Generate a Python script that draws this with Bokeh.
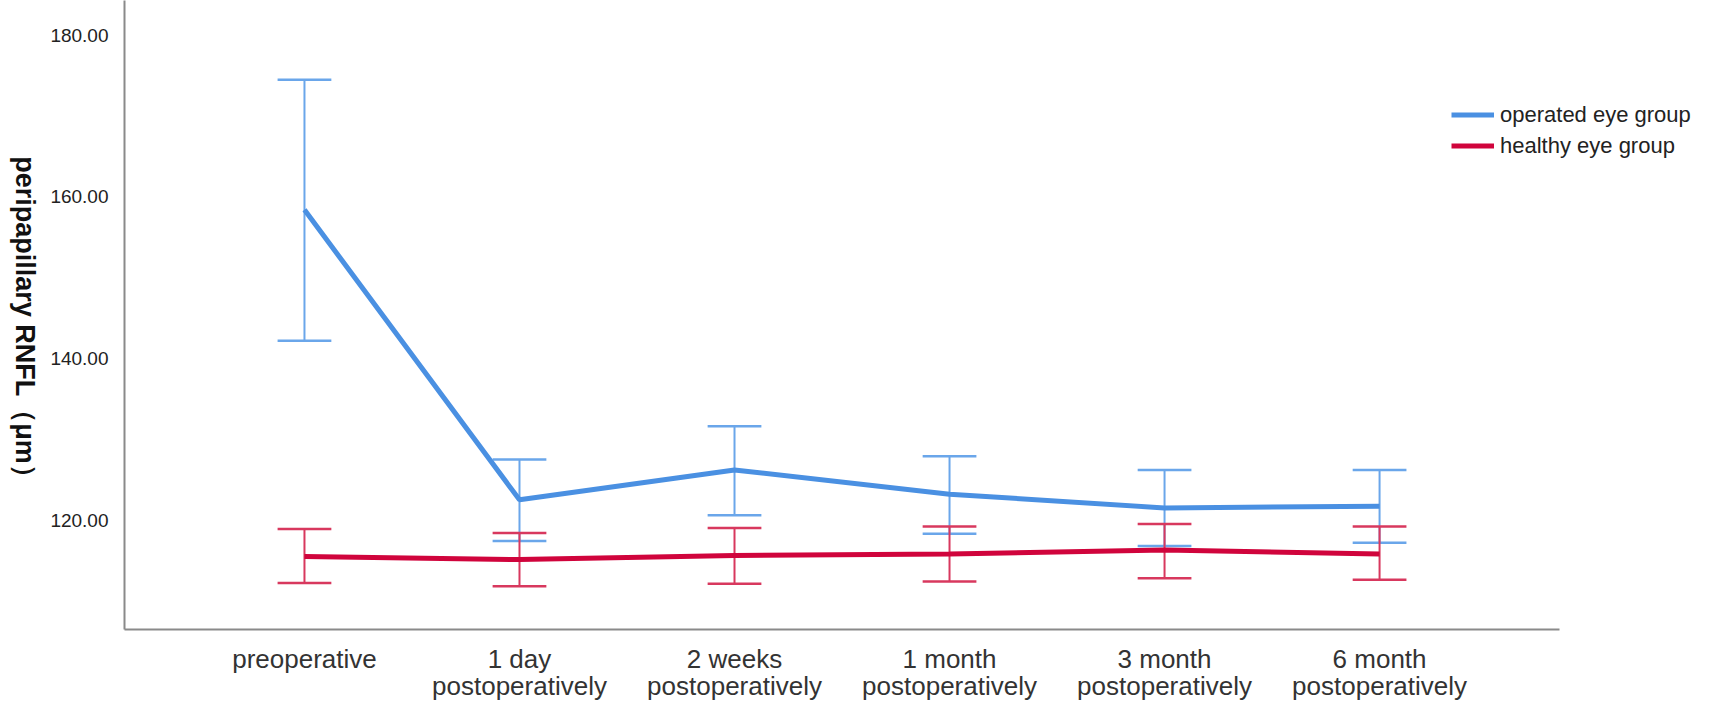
import math
from bokeh.plotting import figure
from bokeh.layouts import row
from bokeh.models import Range1d, FixedTicker, Legend, LegendItem, NumeralTickFormatter, Label
from bokeh.embed import file_html
from bokeh.resources import INLINE

categories = ["preoperative", "1 day\npostoperatively", "2 weeks\npostoperatively",
              "1 month\npostoperatively", "3 month\npostoperatively", "6 month\npostoperatively"]
operated_mean = [158.4, 122.5, 126.2, 123.2, 121.5, 121.7]
operated_upper = [174.5, 127.5, 131.6, 127.9, 126.2, 126.2]
operated_lower = [142.2, 117.4, 120.6, 118.3, 116.8, 117.2]
healthy_mean = [115.5, 115.1, 115.6, 115.8, 116.3, 115.8]
healthy_upper = [118.9, 118.4, 119.0, 119.2, 119.5, 119.2]
healthy_lower = [112.2, 111.8, 112.1, 112.4, 112.8, 112.6]
y_ticks = [120, 140, 160, 180]
y_title = "peripapillary RNFL（μm）"

xs = list(range(len(categories)))
cap = 0.125

BLUE_LINE = "#4a90e2"
BLUE_ERR = "#6aa6ea"
RED_LINE = "#d0043c"
RED_ERR = "#d8385e"

H = 703
LEFT_W = 40

# narrow panel holding the y-axis title (reads top to bottom)
t = figure(width=LEFT_W, height=H, output_backend="svg", toolbar_location=None,
           x_axis_location=None, y_axis_location=None, min_border=0,
           x_range=Range1d(0, 1), y_range=Range1d(0, 1))
t.outline_line_color = None
t.grid.visible = False
t.add_layout(Label(x=24, y=306, x_units="screen", y_units="screen", text=y_title,
                   angle=-math.pi / 2, text_align="center", text_baseline="middle",
                   text_font="Liberation Sans", text_font_style="bold",
                   text_font_size="27px", text_color="#111111"))

p = figure(width=1696 - LEFT_W, height=H, output_backend="svg", toolbar_location=None,
           x_range=Range1d(-0.837, 6.474), y_range=Range1d(106.45, 184.3),
           min_border_left=124 - LEFT_W, min_border_right=0, min_border_top=0, min_border_bottom=71)
p.outline_line_color = None
p.grid.visible = False

# error bars
for mean, up, lo, col in [(operated_mean, operated_upper, operated_lower, BLUE_ERR),
                          (healthy_mean, healthy_upper, healthy_lower, RED_ERR)]:
    p.segment(x0=xs, y0=lo, x1=xs, y1=up, line_color=col, line_width=2)
    p.segment(x0=[x - cap for x in xs], y0=up, x1=[x + cap for x in xs], y1=up, line_color=col, line_width=2.5)
    p.segment(x0=[x - cap for x in xs], y0=lo, x1=[x + cap for x in xs], y1=lo, line_color=col, line_width=2.5)

r_op = p.line(xs, operated_mean, line_color=BLUE_LINE, line_width=5)
r_he = p.line(xs, healthy_mean, line_color=RED_LINE, line_width=5)

legend = Legend(items=[LegendItem(label="operated eye group", renderers=[r_op]),
                       LegendItem(label="healthy eye group", renderers=[r_he])],
                location=(1327, 468), padding=0, margin=0, spacing=0,
                label_height=31, glyph_height=31, glyph_width=43, label_standoff=6,
                label_text_font="Liberation Sans", label_text_font_size="22px",
                label_text_color="#222222", background_fill_alpha=0, border_line_color=None)
p.add_layout(legend, "center")

# axes
for ax in (p.xaxis, p.yaxis):
    ax.axis_line_color = "#8a8a8a"
    ax.axis_line_width = 2
    ax.major_tick_line_color = None
    ax.minor_tick_line_color = None
    ax.major_label_text_font = "Liberation Sans"
    ax.major_label_text_color = "#222222"

p.xaxis.bounds = (-0.837, 5.837)

p.yaxis.ticker = FixedTicker(ticks=y_ticks)
p.yaxis.formatter = NumeralTickFormatter(format="0.00")
p.yaxis.major_label_text_font_size = "19px"
p.yaxis.major_label_standoff = 10

p.xaxis.ticker = FixedTicker(ticks=xs)
p.xaxis.major_label_overrides = {i: c for i, c in enumerate(categories)}
p.xaxis.major_label_text_font_size = "26px"
p.xaxis.major_label_text_line_height = 0.9
p.xaxis.major_label_standoff = 8
p.xaxis.major_label_text_color = "#333333"

layout = row(t, p, spacing=0)
open("out.html", "w").write(file_html(layout, INLINE))
